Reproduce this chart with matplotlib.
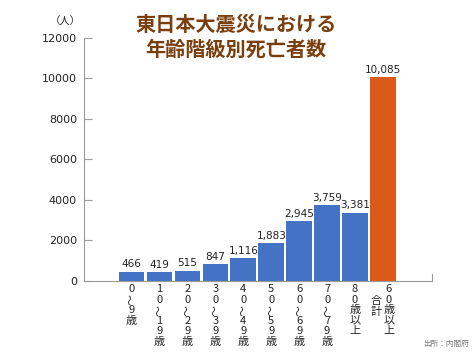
import matplotlib.pyplot as plt
import matplotlib.transforms as mtransforms

plt.rcParams['font.family'] = ['Noto Sans CJK JP', 'DejaVu Sans']

# data
labels = ["0〜9歳", "10〜19歳", "20〜29歳", "30〜39歳", "40〜49歳",
          "50〜59歳", "60〜69歳", "70〜79歳", "80歳以上", "60歳以上"]
deaths = [466, 419, 515, 847, 1116, 1883, 2945, 3759, 3381, 10085]
colors = ["#4472C4"] * 9 + ["#DC5A17"]

fig = plt.figure(figsize=(4.74, 3.55), dpi=100)
ax = fig.add_axes([0.177, 0.2085, 0.734, 0.6845])

x = list(range(len(deaths)))
bars = ax.bar(x, deaths, width=0.92, color=colors)
ax.bar_label(bars, labels=[f"{v:,}" for v in deaths], padding=1.5,
             fontsize=7.5, family='DejaVu Sans', color='#222222')

ax.set_xlim(-1.71, 10.75)
ax.set_ylim(0, 12000)
ax.set_yticks(range(0, 12001, 2000))
ax.set_yticklabels([str(v) for v in range(0, 12001, 2000)],
                   family='DejaVu Sans', fontsize=8, color='#222222')
ax.tick_params(axis='y', direction='in', length=6, color='#999999', pad=5)
ax.set_xticks([])

ax.spines['top'].set_visible(False)
ax.spines['right'].set_bounds(0, 350)
for s in ['left', 'bottom', 'right']:
    ax.spines[s].set_color('#999999')

# vertical category labels, one character per row
trans = mtransforms.blended_transform_factory(ax.transData, ax.transAxes)
row = 7.6


def vlabel(xpos, text, dx=0, first=5.8):
    for k, ch in enumerate(text):
        ax.annotate(ch, xy=(xpos, 0), xycoords=trans,
                    xytext=(dx, -(first + k * row)), textcoords='offset points',
                    ha='center', va='center', fontsize=8, color='#222222',
                    rotation=90 if ch == '〜' else 0)


for i, lab in enumerate(labels):
    if i == len(labels) - 1:
        vlabel(i, lab, dx=4.3)
    else:
        vlabel(i, lab)
vlabel(len(labels) - 1, "合計", dx=-4.8, first=14.5)

fig.text(0.498, 0.93, "東日本大震災における", ha='center', va='center',
         fontsize=14.5, fontweight='bold', color='#7B3F0E')
fig.text(0.498, 0.86, "年齢階級別死亡者数", ha='center', va='center',
         fontsize=14.5, fontweight='bold', color='#7B3F0E')
fig.text(0.137, 0.94, "（人）", ha='center', va='center', fontsize=7.5, color='#222222')
fig.text(0.94, 0.03, "出所：内閣府", ha='center', va='center', fontsize=5.5, color='#777777')

fig.savefig("out.png", dpi=100)
